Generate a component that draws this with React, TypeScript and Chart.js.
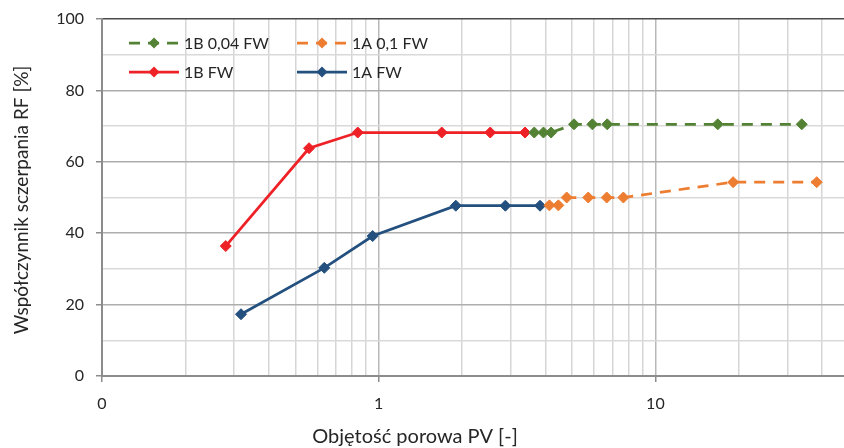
import React, { useEffect, useRef } from "react";
import { Chart, registerables } from "chart.js";

Chart.register(...registerables);

// Pore volume injected [PV] and recovery factor [%] for each flooding run
const pv1B004 = [3.65, 3.94, 4.2, 5.08, 5.92, 6.7, 16.8, 33.8];
const rf1B004 = [68.2, 68.2, 68.2, 70.5, 70.5, 70.5, 70.5, 70.5];

const pv1A01 = [4.14, 4.46, 4.78, 5.72, 6.67, 7.66, 19.1, 38.3];
const rf1A01 = [47.8, 47.8, 50.0, 50.0, 50.0, 50.0, 54.3, 54.3];

const pv1BFW = [0.28, 0.56, 0.84, 1.69, 2.53, 3.38];
const rf1BFW = [36.4, 63.8, 68.2, 68.2, 68.2, 68.2];

const pv1AFW = [0.318, 0.636, 0.951, 1.9, 2.87, 3.83];
const rf1AFW = [17.3, 30.3, 39.2, 47.7, 47.7, 47.7];

const seriesLabels = ["1B 0,04 FW", "1A 0,1 FW", "1B FW", "1A FW"];
const seriesColors = ["#548235", "#ED7D31", "#EE2127", "#23507F"];
const seriesDashed = [true, true, false, false];

const xTickValues = [
  0.1, 0.2, 0.3, 0.4, 0.5, 0.6, 0.7, 0.8, 0.9,
  1, 2, 3, 4, 5, 6, 7, 8, 9,
  10, 20, 30, 40,
];
const xLabeled: Record<string, string> = { "0.1": "0", "1": "1", "10": "10" };

const X_TITLE = "Objętość porowa PV [-]";
const Y_TITLE = "Współczynnik sczerpania RF [%]";

const TEXT = "#262626";
const FONT = "Lato";
const DASH = [11, 8];
const LINE_W = 2.75;

const toPoints = (xs: number[], ys: number[]) => xs.map((x, i) => ({ x, y: ys[i] }));

function drawDiamond(ctx: CanvasRenderingContext2D, x: number, y: number, r: number) {
  ctx.beginPath();
  ctx.moveTo(x - r, y);
  ctx.lineTo(x, y - r);
  ctx.lineTo(x + r, y);
  ctx.lineTo(x, y + r);
  ctx.closePath();
  ctx.fill();
}

const overlay = {
  id: "overlay",
  afterDraw(chart: any) {
    const { ctx, chartArea } = chart;
    ctx.save();
    ctx.fillStyle = TEXT;
    ctx.textAlign = "center";
    ctx.textBaseline = "middle";
    ctx.font = `20px ${FONT}`;
    ctx.fillText(X_TITLE, 415, 437);
    ctx.save();
    ctx.font = `19px ${FONT}`;
    ctx.translate(22, 200);
    ctx.rotate(-Math.PI / 2);
    ctx.fillText(Y_TITLE, 0, 0);
    ctx.restore();

    // legend: two columns, two rows inside the plot area
    const colX = [chartArea.left + 27, chartArea.left + 195];
    const rowY = [chartArea.top + 24, chartArea.top + 53];
    ctx.font = `16px ${FONT}`;
    ctx.textAlign = "left";
    seriesLabels.forEach((label, i) => {
      const x0 = colX[i % 2];
      const y0 = rowY[Math.floor(i / 2)];
      const color = seriesColors[i];
      ctx.strokeStyle = color;
      ctx.fillStyle = color;
      ctx.lineWidth = LINE_W;
      ctx.setLineDash(seriesDashed[i] ? DASH : []);
      ctx.beginPath();
      ctx.moveTo(x0, y0);
      ctx.lineTo(x0 + 50, y0);
      ctx.stroke();
      ctx.setLineDash([]);
      drawDiamond(ctx, x0 + 25, y0, 5.5);
      ctx.fillStyle = TEXT;
      ctx.fillText(label, x0 + 55, y0 + 1);
    });
    ctx.restore();
  },
};

export default function App() {
  const canvasRef = useRef<HTMLCanvasElement | null>(null);

  useEffect(() => {
    document.body.style.margin = "0";
    const canvas = canvasRef.current;
    if (!canvas) return;

    const xs = [pv1B004, pv1A01, pv1BFW, pv1AFW];
    const ys = [rf1B004, rf1A01, rf1BFW, rf1AFW];

    const datasets = seriesLabels.map((label, i) => ({
      label,
      data: toPoints(xs[i], ys[i]),
      borderColor: seriesColors[i],
      backgroundColor: seriesColors[i],
      borderWidth: LINE_W,
      borderDash: seriesDashed[i] ? DASH : [],
      pointStyle: "rectRot" as const,
      pointRadius: 5.5,
      pointBorderWidth: 1,
      pointHoverRadius: 5.5,
      tension: 0,
      fill: false,
    }));

    const chart = new Chart(canvas, {
      type: "line",
      data: { datasets },
      plugins: [overlay],
      options: {
        animation: false,
        responsive: true,
        maintainAspectRatio: false,
        layout: { autoPadding: false, padding: { top: 19, right: 0, left: 0, bottom: 0 } },
        plugins: {
          legend: { display: false },
          tooltip: { enabled: false },
        },
        font: { family: FONT },
        scales: {
          x: {
            type: "logarithmic",
            min: 0.1,
            max: 48.05,
            afterBuildTicks: (axis: any) => {
              axis.ticks = xTickValues.map((v) => ({ value: v }));
            },
            afterFit: (axis: any) => {
              axis.height = 72;
              axis.paddingRight = 0;
            },
            ticks: {
              autoSkip: false,
              maxRotation: 0,
              padding: 12,
              color: TEXT,
              font: { family: FONT, size: 16 },
              callback: (v: any) => xLabeled[String(v)] ?? "",
            },
            grid: {
              color: (c: any) =>
                c.tick && [1, 10].includes(c.tick.value) ? "#b8b8b8" : "#d6d6d6",
              lineWidth: 1.5,
              tickLength: 6,
              tickColor: (c: any) =>
                c.tick && xLabeled[String(c.tick.value)] ? "#8c8c8c" : "rgba(0,0,0,0)",
            },
            border: { color: "#8c8c8c", width: 2 },
          },
          y: {
            min: 0,
            max: 100,
            afterFit: (axis: any) => {
              axis.width = 102;
              axis.paddingTop = 0;
              axis.paddingBottom = 0;
            },
            ticks: {
              stepSize: 10,
              padding: 12,
              color: TEXT,
              font: { family: FONT, size: 16 },
              callback: (v: any) => (Number(v) % 20 === 0 ? String(v) : ""),
            },
            grid: {
              color: (c: any) => {
                const v = c.tick ? c.tick.value : 0;
                if (v === 100) return "#4a4a4a";
                return v % 20 === 0 ? "#adadad" : "#d9d9d9";
              },
              lineWidth: 1.5,
              tickLength: 6,
              tickColor: (c: any) =>
                c.tick && c.tick.value % 20 === 0 ? "#8c8c8c" : "rgba(0,0,0,0)",
            },
            border: { color: "#8c8c8c", width: 2 },
          },
        },
      },
    });

    return () => chart.destroy();
  }, []);

  return (
    <div style={{ width: 844, height: 448, position: "relative", background: "#fff" }}>
      <canvas ref={canvasRef} />
    </div>
  );
}
